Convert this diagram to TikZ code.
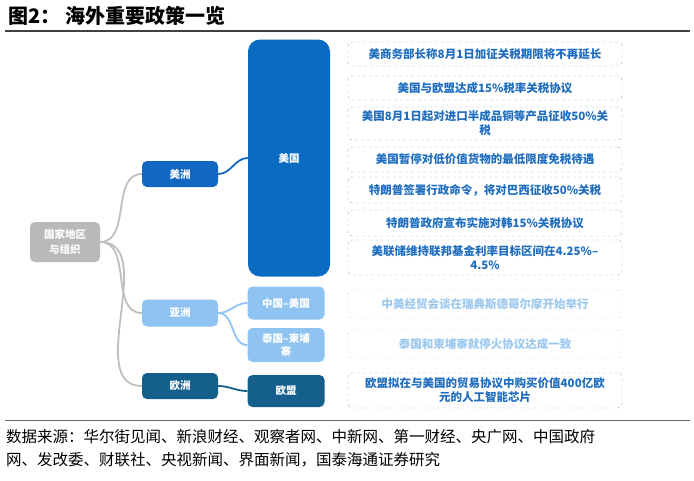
\documentclass[tikz,border=0pt]{standalone}
\usepackage{fontspec}
\setmainfont{Noto Sans CJK SC}
\begin{document}
\begin{tikzpicture}[x=1pt,y=-1pt,
  mid/.style={rounded corners=5pt,minimum width=76pt,text=white,font=\fontsize{10.5}{13}\selectfont\bfseries,align=center,inner sep=1pt},
  pol/.style={draw=polcol!50!gray!60,dashed,rounded corners=4pt,minimum width=274pt,align=center,text width=266pt,font=\fontsize{11.5}{14}\selectfont\bfseries,text=polcol,inner sep=1pt},
  lk/.style={line width=1.8pt,out=0,in=180}]
\definecolor{amcol}{HTML}{1167C2}
\definecolor{usacol}{HTML}{0A6BC3}
\definecolor{ltcol}{HTML}{8EC3F2}
\definecolor{eucol}{HTML}{145F8C}
\definecolor{polcol}{HTML}{1F6DBF}
\definecolor{polltcol}{HTML}{9CC8EE}
\useasboundingbox (0,0) rectangle (694,480);
\node[anchor=west,font=\fontsize{20}{22}\selectfont\bfseries] (title) at (5,16) {图2：\ 海外重要政策一览};
\draw[line width=1.2pt,black!75] (5,31) -- (690,31);
% root
\node[mid,fill=gray!55,minimum width=70pt,minimum height=40pt,font=\fontsize{10.5}{15}\selectfont\bfseries] (root) at (65,242) {国家地区\\与组织};
\node[mid,fill=amcol,minimum height=26pt] (am) at (180,174) {美洲};
\node[mid,fill=ltcol,minimum height=27pt] (as) at (180,313) {亚洲};
\node[mid,fill=eucol,minimum height=26pt] (eu) at (180,386) {欧洲};
\node[mid,fill=usacol,minimum width=82pt,minimum height=237pt,rounded corners=12pt] (us) at (289,158) {美国};
\node[mid,fill=ltcol,minimum width=77pt,minimum height=33pt] (cn) at (286,303) {中国–美国};
\node[mid,fill=ltcol,minimum width=77pt,minimum height=34pt] (th) at (286,345) {泰国–柬埔\\寨};
\node[mid,fill=eucol,minimum width=77pt,minimum height=32pt] (eum) at (286,391) {欧盟};
% connectors
\draw[lk,gray!50] (root.east) to (am.west);
\draw[lk,gray!50] (root.east) to (as.west);
\draw[lk,gray!50] (root.east) to (eu.west);
\draw[lk,amcol] (am.east) to (us.west);
\draw[lk,ltcol] (as.east) to (cn.west);
\draw[lk,ltcol] (as.east) to (th.west);
\draw[lk,eucol] (eu.east) to (eum.west);
% policies
\node[pol,minimum height=24pt] (p1) at (485,54) {美商务部长称8月1日加征关税期限将不再延长};
\node[pol,minimum height=24pt] (p2) at (485,88) {美国与欧盟达成15\%税率关税协议};
\node[pol,minimum height=33pt] (p3) at (485,123.5) {美国8月1日起对进口半成品铜等产品征收50\%关\\税};
\node[pol,minimum height=25pt] (p4) at (485,159.5) {美国暂停对低价值货物的最低限度免税待遇};
\node[pol,minimum height=26pt] (p5) at (485,190) {特朗普签署行政命令，将对巴西征收50\%关税};
\node[pol,minimum height=26pt] (p6) at (485,223) {特朗普政府宣布实施对韩15\%关税协议};
\node[pol,minimum height=35pt] (p7) at (485,257.5) {美联储维持联邦基金利率目标区间在4.25\%–\\4.5\%};
\node[pol,minimum height=28pt,text=polltcol,draw=polltcol!70] (p8) at (485,304) {中美经贸会谈在瑞典斯德哥尔摩开始举行};
\node[pol,minimum height=28pt,text=polltcol,draw=polltcol!70] (p9) at (485,344) {泰国和柬埔寨就停火协议达成一致};
\node[pol,minimum height=35pt] (p10) at (485,390.5) {欧盟拟在与美国的贸易协议中购买价值400亿欧\\元的人工智能芯片};
\draw[line width=0.8pt,black!60] (5,420) -- (690,420);
\node[anchor=north west,align=left,font=\fontsize{15.5}{23}\selectfont,inner sep=0pt] (src) at (6,429) {数据来源：华尔街见闻、新浪财经、观察者网、中新网、第一财经、央广网、中国政府\\网、发改委、财联社、央视新闻、界面新闻，国泰海通证券研究};
\end{tikzpicture}
\end{document}
